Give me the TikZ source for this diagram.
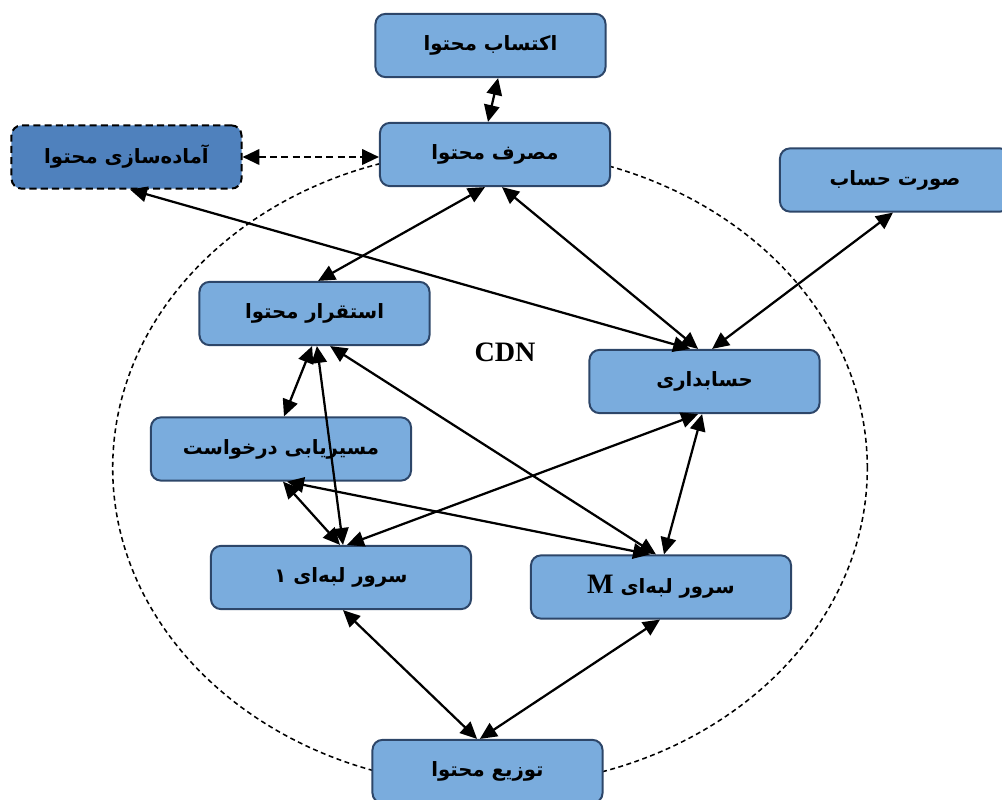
\documentclass[tikz,border=0pt]{standalone}
\usepackage{fontspec}
\setmainfont{Liberation Serif}
\newfontfamily\fafont[Script=Arabic]{DejaVu Sans}
\TeXXeTstate=1
\usetikzlibrary{arrows.meta}
\definecolor{boxfill}{RGB}{122,172,221}
\definecolor{darkfill}{RGB}{79,129,189}
\definecolor{boxline}{RGB}{45,70,105}
\newcommand{\fa}[1]{{\fafont\bfseries\beginR #1\endR}}

\begin{document}
\begin{tikzpicture}[x=0.025cm, y=-0.025cm,
  box/.style={draw=boxline, fill=boxfill, line width=1.4pt, rounded corners=0.25cm,
    minimum width=5.75cm, minimum height=1.58cm, font=\fontsize{14}{16}\selectfont},
  widebox/.style={box, minimum width=6.5cm},
  link/.style={{Triangle[length=12pt,width=11pt]}-{Triangle[length=12pt,width=11pt]}, line width=1.6pt}]
  \clip (0,0) rectangle (1002,800);

  % CDN boundary
  \draw[dashed, dash pattern=on 3.5pt off 2.5pt, line width=1.1pt] (490,468) ellipse [x radius=9.43cm, y radius=7.95cm];
  \node[font=\fontsize{20}{22}\selectfont\bfseries] (cdn) at (505,352) {CDN};

  \node[box] (aktesab) at (490.5,45.5) {\fa{اکتساب محتوا}};
  \node[box] (masraf) at (495,154.5) {\fa{مصرف  محتوا}};
  \node[box, fill=darkfill, draw=black, dash pattern=on 5pt off 3pt] (amade) at (126.5,157) {\fa{آماده‌سازی  محتوا}};
  \node[box] (surat) at (895,180) {\fa{صورت حساب}};
  \node[box] (esteqrar) at (314.5,313.5) {\fa{استقرار  محتوا}};
  \node[box] (hesab) at (704.5,381.5) {\fa{حسابداری}};
  \node[widebox] (masir) at (281,449) {\fa{مسیریابی درخواست}};
  \node[widebox] (server1) at (341,577.5) {\fa{سرور لبه‌ای ۱}};
  \node[widebox] (serverM) at (661,587) {\fa{سرور لبه‌ای {\rmfamily\fontsize{20}{22}\selectfont M}}};
  \node[box] (tozi) at (487.5,771.5) {\fa{توزیع  محتوا}};

  \draw[link] ([xshift=0.19cm]aktesab.south) -- ([xshift=-0.175cm]masraf.north);
  \draw[link, dashed, dash pattern=on 5pt off 3pt] (amade.east) -- (amade.east -| masraf.west);
  \draw[link] ([xshift=-0.25cm]masraf.south) -- ([xshift=0.09cm]esteqrar.north);
  \draw[link] ([xshift=0.175cm]masraf.south) -- ([xshift=-0.16cm]hesab.north);
  \draw[link] ([xshift=0.09cm]amade.south) -- ([xshift=-0.36cm]hesab.north);
  \draw[link] ([xshift=-0.05cm]surat.south) -- ([xshift=0.19cm]hesab.north);
  \draw[link] ([xshift=-0.06cm]esteqrar.south) -- ([xshift=0.075cm]masir.north);
  \draw[link] ([xshift=0.06cm]esteqrar.south) -- ([xshift=0.05cm]server1.north);
  \draw[link] ([xshift=0.39cm]esteqrar.south) -- ([xshift=-0.125cm]serverM.north);
  \draw[link] ([xshift=0.05cm]masir.south) -- ([xshift=-0.025cm]server1.north);
  \draw[link] ([xshift=0.15cm]masir.south) -- ([xshift=-0.275cm]serverM.north);
  \draw[link] ([xshift=-0.16cm]hesab.south) -- ([xshift=0.15cm]server1.north);
  \draw[link] ([xshift=-0.06cm]hesab.south) -- ([xshift=0.075cm]serverM.north);
  \draw[link] ([xshift=0.05cm]server1.south) -- ([xshift=-0.26cm]tozi.north);
  \draw[link] ([xshift=-0.025cm]serverM.south) -- ([xshift=-0.19cm]tozi.north);
\end{tikzpicture}
\end{document}
